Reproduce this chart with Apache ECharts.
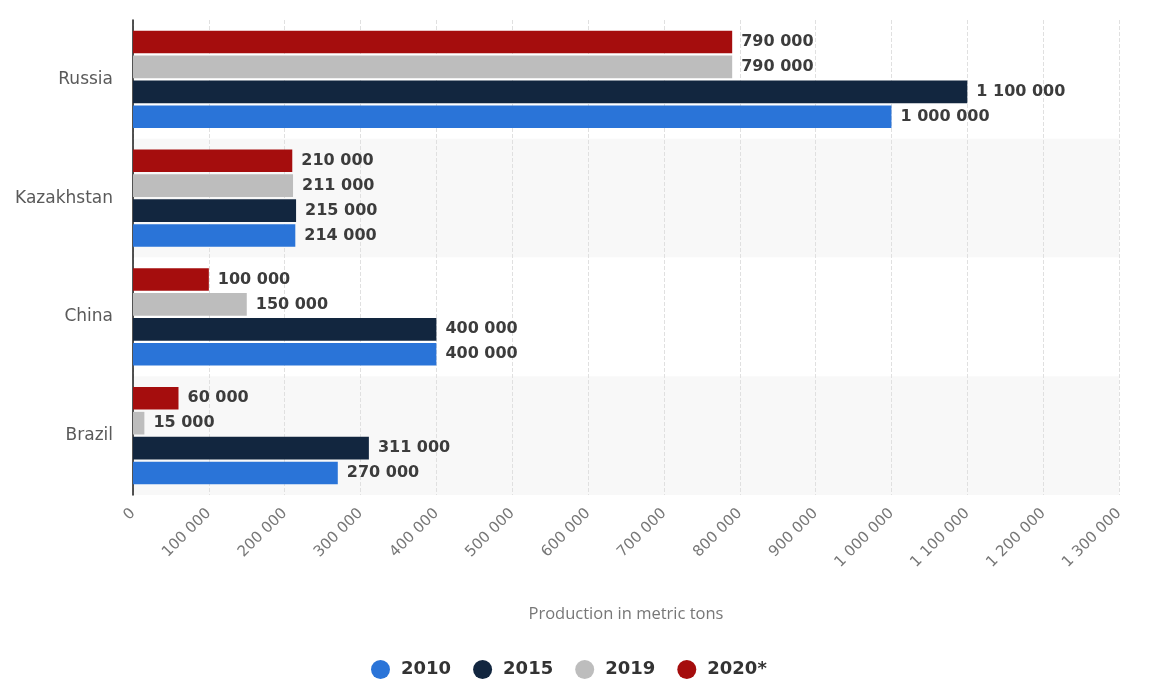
<!DOCTYPE html>
<html>
<head>
<meta charset="utf-8">
<script src="https://cdn.jsdelivr.net/npm/echarts@6/dist/echarts.min.js"></script>
<style>html,body{margin:0;padding:0;background:#fff;}#c{width:1152px;height:686px;}</style>
</head>
<body>
<div id="c"></div>
<script>
const categories = ['Russia', 'Kazakhstan', 'China', 'Brazil'];
const seriesNames = ['2010', '2015', '2019', '2020*'];
const values2010 = [1000000, 214000, 400000, 270000];
const values2015 = [1100000, 215000, 400000, 311000];
const values2019 = [790000, 211000, 150000, 15000];
const values2020 = [790000, 210000, 100000, 60000];
const colors = ['#2a74d8', '#12263f', '#bdbdbd', '#a50d0d'];

function fmt(v) {
  return String(v).replace(/\B(?=(\d{3})+(?!\d))/g, ' ');
}

const FONT = 'DejaVu Sans';
const dataSets = [values2010, values2015, values2019, values2020];
const chart = echarts.init(document.getElementById('c'));
const series = seriesNames.map((n, i) => ({
  name: n,
  type: 'bar',
  data: dataSets[i],
  itemStyle: { color: colors[i] },
  barGap: '10%',
  barCategoryGap: '18%',
  label: {
    show: true,
    position: 'right',
    distance: 9,
    color: '#3c3c3c',
    fontWeight: 'bold',
    fontSize: 16,
    fontFamily: FONT,
    formatter: p => fmt(p.value)
  }
}));
// draw top-to-bottom: 2020*, 2019, 2015, 2010
series.reverse();

chart.setOption({
  animation: false,
  textStyle: { fontFamily: FONT },
  grid: { left: 133, right: 33, top: 20, bottom: 191, containLabel: false },
  legend: {
    data: seriesNames,
    bottom: 2,
    left: 366,
    icon: 'circle',
    itemWidth: 19,
    itemHeight: 19,
    itemGap: 22,
    textStyle: { fontSize: 18, fontWeight: 'bold', color: '#333', fontFamily: FONT, padding: [0, 0, 0, 6] }
  },
  xAxis: {
    type: 'value',
    min: 0,
    max: 1300000,
    interval: 100000,
    name: 'Production in metric tons',
    nameLocation: 'middle',
    nameGap: 111,
    nameTextStyle: { color: '#777', fontSize: 16.5, fontFamily: 'Open Sans' },
    axisLine: { show: false },
    axisTick: { show: false },
    axisLabel: { rotate: 45, color: '#777', fontSize: 15, margin: 16, fontFamily: FONT, formatter: v => fmt(v) },
    splitLine: { show: true, lineStyle: { color: '#e0e0e0', type: 'dashed', width: 1 } }
  },
  yAxis: {
    type: 'category',
    data: categories,
    inverse: true,
    axisLine: { show: true, lineStyle: { color: '#1a1a1a', width: 1.5 } },
    axisTick: { show: false },
    axisLabel: { color: '#5a5a5a', fontSize: 17, margin: 20, fontFamily: FONT },
    splitArea: { show: true, areaStyle: { color: ['#ffffff', '#f8f8f8'] } }
  },
  series: series
});
</script>
</body>
</html>
